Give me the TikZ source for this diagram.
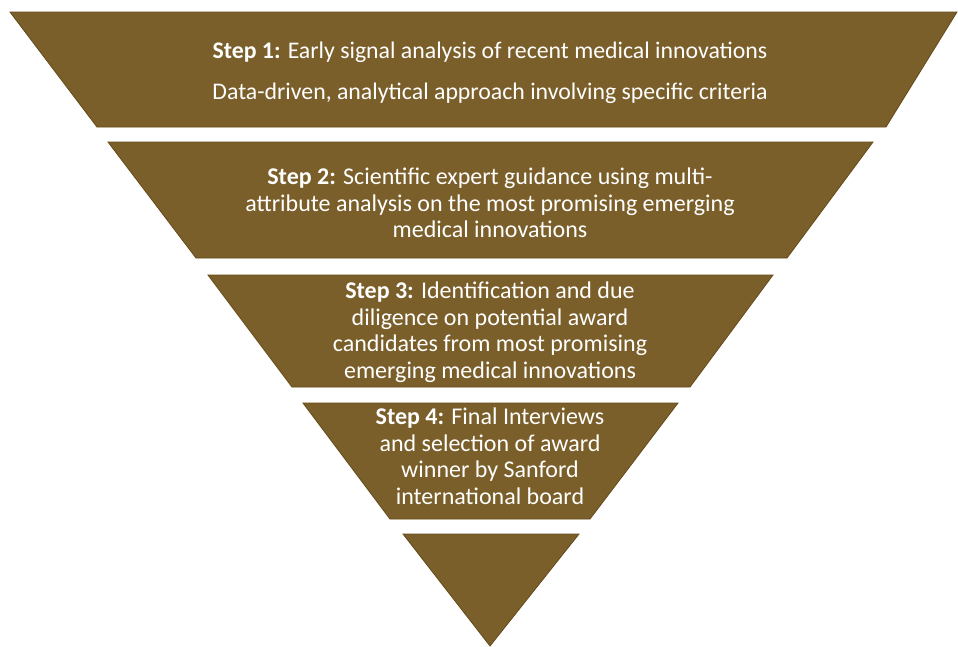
\documentclass[tikz,border=0pt]{standalone}
\usepackage{fontspec}
\setmainfont{Carlito}
\definecolor{bandbrown}{RGB}{123,95,42}
\definecolor{banddark}{RGB}{100,74,25}
\begin{document}
\begin{tikzpicture}[x=1pt,y=-1pt,
  band/.style={fill=bandbrown,draw=banddark,line width=0.8pt,line join=miter},
  steptext/.style={text=white,align=center,font=\fontsize{24}{26.5}\selectfont,inner sep=0pt},
  toptext/.style={steptext,font=\fontsize{23.8}{26.5}\selectfont}]
\useasboundingbox (0,0) rectangle (958,646);
% bands
\path[band] (10,12) -- (957,12) -- (886,127) -- (97,127) -- cycle;
\path[band] (108,142) -- (873,142) -- (787,258) -- (196,258) -- cycle;
\path[band] (208,275) -- (773,275) -- (690,387) -- (292,387) -- cycle;
\path[band] (303,403) -- (678,403) -- (590,519) -- (390,519) -- cycle;
\path[band] (403,534) -- (579,534) -- (490,646) -- cycle;
% texts
\node[toptext] (t1a) at (490,52) {\textbf{Step 1:} Early signal analysis of recent medical innovations};
\node[toptext] (t1b) at (490,93) {Data-driven, analytical approach involving specific criteria};
\node[steptext] (t2) at (490,203) {\textbf{Step 2:} Scientific expert guidance using multi-\\attribute analysis on the most promising emerging\\medical innovations};
\node[steptext] (t3) at (490,332) {\textbf{Step 3:} Identification and due\\diligence on potential award\\candidates from most promising\\emerging medical innovations};
\node[steptext] (t4) at (490,456) {\textbf{Step 4:} Final Interviews\\and selection of award\\winner by Sanford\\international board};
\end{tikzpicture}
\end{document}
